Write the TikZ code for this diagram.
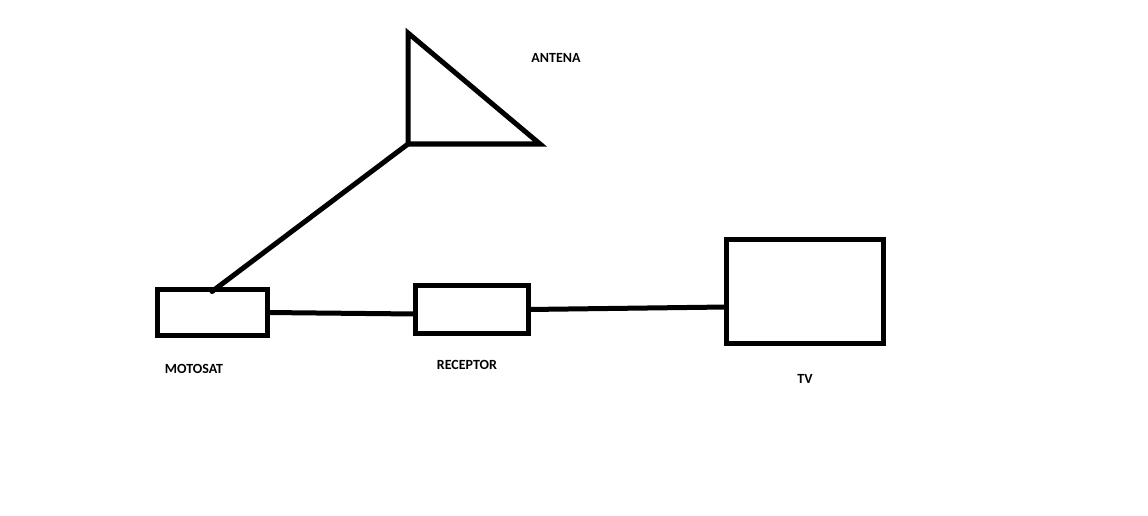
\documentclass[tikz,border=0pt]{standalone}
\usepackage{fontspec}
\setmainfont{Carlito}
\begin{document}
\begin{tikzpicture}[x=1pt,y=-1pt,
  box/.style={draw=black,line width=5pt,inner sep=0pt,outer sep=0pt,fill=white},
  wire/.style={draw=black,line width=5pt},
  lab/.style={font=\fontsize{14}{16}\selectfont\bfseries,text=black,inner sep=0pt}]
\useasboundingbox[fill=white] (0,0) rectangle (1148,516);
% boxes
\node[box,minimum width=110pt,minimum height=46pt] (motosat) at (212,312.5) {};
\node[box,minimum width=113pt,minimum height=48pt] (receptor) at (472,309.5) {};
\node[box,minimum width=157pt,minimum height=104pt] (tv) at (805,291.5) {};
% antenna
\coordinate (anttop) at (408,33);
\coordinate (antbase) at (408,144);
\coordinate (anttip) at (540,144);
\draw[wire,line join=miter] (antbase) -- (anttop) -- (anttip) -- cycle;
% connectors
\draw[wire,line cap=round] (antbase) -- ([yshift=-2pt]motosat.north);
\draw[wire] (motosat.east) -- ([yshift=-4.5pt]receptor.west);
\draw[wire] (receptor.east) -- ([yshift=-15.5pt]tv.west);
% labels
\node[lab] (antlab) at (556,58) {ANTENA};
\node[lab] (motolab) at (194,369) {MOTOSAT};
\node[lab] (reclab) at (467,365) {RECEPTOR};
\node[lab] (tvlab) at (805,379) {TV};
\end{tikzpicture}
\end{document}
